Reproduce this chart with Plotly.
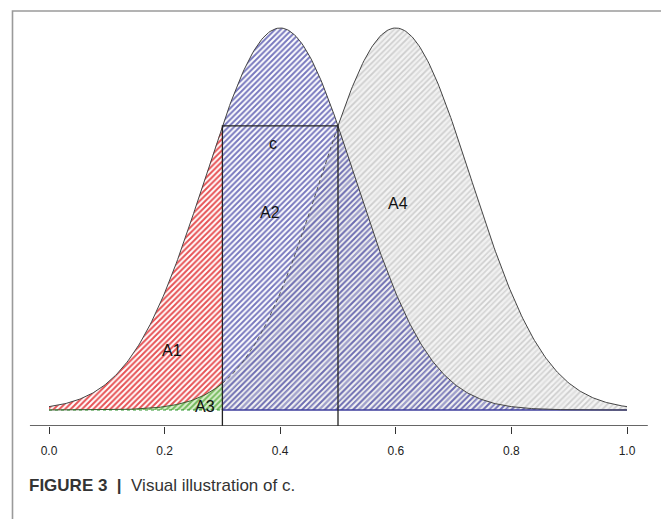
import numpy as np
import plotly.graph_objects as go

# ---- data ----
means = [0.4, 0.6]          # centres of the two normal curves
sd = 0.13                   # common standard deviation
c_bounds = [0.3, 0.5]       # rectangle "c" limits
x_ticks = [0.0, 0.2, 0.4, 0.6, 0.8, 1.0]
tick_labels = ["0.0", "0.2", "0.4", "0.6", "0.8", "1.0"]
region_labels = ["A1", "A2", "A3", "A4", "c"]
region_label_x = [0.213, 0.382, 0.270, 0.604, 0.388]
region_label_y = [0.48, 1.59, 0.03, 1.66, 2.14]
caption = "<b>FIGURE 3</b>  <b>|</b>  Visual illustration of c."

# page offset (browser body margin) compensation, in px
OFF = 8
W, H = 669, 519
PX_PER_X = 578.0
X0_PX = 49 - OFF
BASE_PX = 410 - OFF
AXIS_PX = 426 - OFF
PX_PER_Y = 124.48


def pdf(x, m):
    return np.exp(-(x - m) ** 2 / (2 * sd ** 2)) / (sd * np.sqrt(2 * np.pi))


xs = np.linspace(0.0, 1.0, 401)
lo = xs[xs <= c_bounds[0] + 1e-9]
hi = xs[xs >= c_bounds[0] - 1e-9]
mid = xs[(xs >= c_bounds[0] - 1e-9) & (xs <= c_bounds[1] + 1e-9)]
right2 = xs[xs >= c_bounds[1] - 1e-9]

fig = go.Figure()

# red A1 : under curve 1, left of 0.3
fig.add_trace(go.Scatter(x=lo, y=pdf(lo, means[0]), fill="tozeroy", mode="none",
                         fillcolor="rgba(0,0,0,0)",
                         fillpattern=dict(shape="/", fgcolor="#e0262a", fgopacity=0.8,
                                          bgcolor="rgba(255,255,255,0.7)", size=4, solidity=0.5)))
# gray A4 background tone : under curve 2, right of 0.3
fig.add_trace(go.Scatter(x=hi, y=pdf(hi, means[1]), fill="tozeroy", mode="none",
                         fillcolor="rgba(0,0,0,0)",
                         fillpattern=dict(shape="/", fgcolor="#c4c4c4", fgopacity=0.8, bgcolor="#f1f1f1",
                                          size=4, solidity=0.45)))
# blue A2 : under curve 1, right of 0.3
fig.add_trace(go.Scatter(x=hi, y=pdf(hi, means[0]), fill="tozeroy", mode="none",
                         fillcolor="rgba(0,0,0,0)",
                         fillpattern=dict(shape="/", fgcolor="#4a4aa8", fgopacity=0.75,
                                          bgcolor="rgba(255,255,255,0)", size=4, solidity=0.5)))
# light gray veil over the overlap (curve 2 over blue)
fig.add_trace(go.Scatter(x=hi, y=pdf(hi, means[1]), fill="tozeroy", mode="none",
                         fillcolor="rgba(0,0,0,0)",
                         fillpattern=dict(shape="/", fgcolor="#ffffff", fgopacity=0.35,
                                          bgcolor="rgba(255,255,255,0)", size=7, solidity=0.3)))
# green A3 : under curve 2, left of 0.3
fig.add_trace(go.Scatter(x=lo, y=pdf(lo, means[1]), fill="tozeroy", mode="none",
                         fillcolor="rgba(0,0,0,0)",
                         fillpattern=dict(shape="/", fgcolor="#5aac40", fgopacity=0.8, bgcolor="#dcefd0",
                                          size=4, solidity=0.5)))

# baseline borders
fig.add_trace(go.Scatter(x=[0.0, c_bounds[0]], y=[0, 0], mode="lines",
                         line=dict(color="#2f952f", width=1.2, dash="dot")))
fig.add_trace(go.Scatter(x=[c_bounds[0], 1.0], y=[0, 0], mode="lines",
                         line=dict(color="#3e3e9c", width=1.3)))

# outlines
fig.add_trace(go.Scatter(x=xs, y=pdf(xs, means[0]), mode="lines",
                         line=dict(color="#444444", width=1)))
fig.add_trace(go.Scatter(x=lo, y=pdf(lo, means[1]), mode="lines",
                         line=dict(color="#3a5a30", width=1)))
fig.add_trace(go.Scatter(x=mid, y=pdf(mid, means[1]), mode="lines",
                         line=dict(color="#555555", width=1, dash="4px,3px")))
fig.add_trace(go.Scatter(x=right2, y=pdf(right2, means[1]), mode="lines",
                         line=dict(color="#444444", width=1)))

# rectangle c
y_axis_line = -(AXIS_PX - BASE_PX) / PX_PER_Y
top_c = pdf(np.array([c_bounds[0]]), means[0])[0]
fig.add_trace(go.Scatter(x=[c_bounds[0], c_bounds[0], c_bounds[1], c_bounds[1]],
                         y=[y_axis_line, top_c, top_c, y_axis_line], mode="lines",
                         line=dict(color="#222222", width=1.3)))

# x axis line (custom extent)
fig.add_shape(type="line", xref="x", yref="y", x0=-0.033, x1=1.036, y0=y_axis_line, y1=y_axis_line,
              line=dict(color="#333333", width=1.3))

for t, lx, ly in zip(region_labels, region_label_x, region_label_y):
    fig.add_annotation(x=lx, y=ly, text=t, showarrow=False,
                       font=dict(family="Liberation Sans, Arial", size=16, color="#111111"))


def px_to_paper_x(px):
    return (px - OFF) / W


def py_to_paper_y(py):
    return (AXIS_PX - (py - OFF)) / AXIS_PX


# frame around figure
fig.add_shape(type="rect", xref="paper", yref="paper",
              x0=px_to_paper_x(12.5), x1=px_to_paper_x(666), y0=py_to_paper_y(560), y1=py_to_paper_y(11),
              line=dict(color="#9a9a9a", width=1.6))

fig.add_annotation(xref="paper", yref="paper", x=px_to_paper_x(27), y=py_to_paper_y(485),
                   xanchor="left", yanchor="middle", showarrow=False, text=caption,
                   font=dict(family="Liberation Sans Narrow, Liberation Sans, Arial", size=17, color="#333333"))

fig.update_layout(
    width=W, height=H,
    margin=dict(l=0, r=0, t=0, b=H - AXIS_PX),
    paper_bgcolor="white", plot_bgcolor="white",
    showlegend=False,
    xaxis=dict(range=[-X0_PX / PX_PER_X, (W - X0_PX) / PX_PER_X], tickmode="array",
               tickvals=x_ticks, ticktext=tick_labels,
               ticks="outside", ticklen=7, tickwidth=1.3, tickcolor="#333333",
               ticklabelstandoff=7,
               showgrid=False, zeroline=False, showline=False,
               tickfont=dict(family="Liberation Sans, Arial", size=12, color="#222222")),
    yaxis=dict(range=[y_axis_line, BASE_PX / PX_PER_Y], visible=False, showgrid=False, zeroline=False),
)

fig.write_html("out.html")
